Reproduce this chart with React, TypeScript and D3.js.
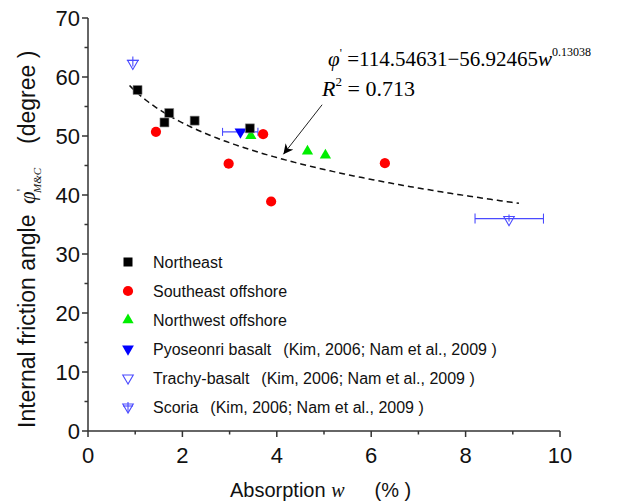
import React from "react";
import * as d3 from "d3";

// ---- data ----
const xTicks = [0, 2, 4, 6, 8, 10];
const xMinor = [1, 3, 5, 7, 9];
const yTicks = [0, 10, 20, 30, 40, 50, 60, 70];
const yMinor = [5, 15, 25, 35, 45, 55, 65];

const northeastW = [1.05, 1.72, 1.62, 2.26, 3.43];
const northeastPhi = [57.8, 53.9, 52.3, 52.6, 51.3];

const southeastW = [1.44, 3.71, 2.98, 3.88, 6.29];
const southeastPhi = [50.7, 50.3, 45.3, 38.9, 45.4];

const northwestW = [3.45, 4.65, 5.03];
const northwestPhi = [50.2, 47.6, 46.9];

const pyoseonriW = [3.23];
const pyoseonriPhi = [50.7];
const pyoseonriErrLo = [2.85];
const pyoseonriErrHi = [3.6];

const trachyW = [8.92];
const trachyPhi = [36.0];
const trachyErrLo = [8.2];
const trachyErrHi = [9.65];

const scoriaW = [0.95];
const scoriaPhi = [62.3];

// fitted curve: phi = A - B * w^p
const fitA = 114.54631;
const fitB = 56.92465;
const fitP = 0.13038;
const fitStart = 0.88;
const fitEnd = 9.15;

const legendLabels = [
  "Northeast",
  "Southeast offshore",
  "Northwest offshore",
  "Pyoseonri basalt",
  "Trachy-basalt",
  "Scoria",
];
const legendRefs = ["", "", "", "(Kim, 2006; Nam et al., 2009 )", "(Kim, 2006; Nam et al., 2009 )", "(Kim, 2006; Nam et al., 2009 )"];

const BLUE = "#0000ff";
const LBLUE = "#4a4aff";
const RED = "#ff0000";
const GREEN = "#00ee00";
const SANS = "Arial, 'Liberation Sans', sans-serif";
const SERIF = "'Times New Roman', 'Liberation Serif', serif";

export default function App() {
  const x = d3.scaleLinear().domain([0, 10]).range([88, 560]);
  const y = d3.scaleLinear().domain([0, 70]).range([431, 18]);

  const sq = d3.symbol().type(d3.symbolSquare).size(81)() as string;
  const circ = d3.symbol().type(d3.symbolCircle).size(82)() as string;
  const tri = d3.symbol().type(d3.symbolTriangle).size(55)() as string;
  const triD = d3.symbol().type(d3.symbolTriangle).size(60)() as string;
  const triO = d3.symbol().type(d3.symbolTriangle).size(48)() as string;

  const fitPts: [number, number][] = d3
    .range(fitStart, fitEnd + 1e-9, 0.05)
    .map((w) => [w, fitA - fitB * Math.pow(w, fitP)]);
  const line = d3
    .line<[number, number]>()
    .x((d) => x(d[0]))
    .y((d) => y(d[1]));

  const scoriaSym = (key: string, cx: number, cy: number) => (
    <g key={key} transform={`translate(${cx},${cy})`} stroke={LBLUE} fill="none" strokeWidth={1.1}>
      <path d={triO} transform="rotate(180)" />
      <line x1={-6} x2={6} y1={-3} y2={-3} />
      <line x1={0} x2={0} y1={-7} y2={3} />
    </g>
  );

  const legendSym = (i: number) => {
    switch (i) {
      case 0:
        return <path d={sq} fill="#000" />;
      case 1:
        return <path d={circ} fill={RED} />;
      case 2:
        return <path d={tri} fill={GREEN} />;
      case 3:
        return <path d={triD} fill={BLUE} transform="rotate(180)" />;
      case 4:
        return <path d={triO} fill="none" stroke={LBLUE} strokeWidth={1.1} transform="rotate(180)" />;
      default:
        return (
          <g stroke={LBLUE} fill="none" strokeWidth={1.1}>
            <path d={triO} transform="rotate(180)" />
            <line x1={-5} x2={5} y1={-1} y2={-1} />
            <line x1={0} x2={0} y1={-5} y2={5} />
          </g>
        );
    }
  };

  const arrowFrom = [4.96, 55.3];
  const arrowTo = [4.14, 46.9];

  return (
    <svg
      width={620}
      height={504}
      style={{ position: "absolute", left: 0, top: 0, background: "#fff" }}
      xmlns="http://www.w3.org/2000/svg"
    >
      <defs>
        <marker
          id="ah"
          markerUnits="userSpaceOnUse"
          markerWidth={12}
          markerHeight={12}
          refX={10}
          refY={5}
          orient="auto"
        >
          <path d="M0,0 L10,5 L0,10 L3,5 Z" fill="#000" />
        </marker>
      </defs>
      <rect width={620} height={504} fill="#fff" />

      {/* axes */}
      <g stroke="#333" strokeWidth={1.5}>
        <line x1={x(0)} x2={x(0)} y1={y(70)} y2={y(0)} />
        <line x1={x(0)} x2={x(10)} y1={y(0)} y2={y(0)} />
        {yTicks.map((t) => (
          <line key={"yt" + t} x1={x(0) - 6} x2={x(0)} y1={y(t)} y2={y(t)} />
        ))}
        {yMinor.map((t) => (
          <line key={"ym" + t} x1={x(0) - 3.5} x2={x(0)} y1={y(t)} y2={y(t)} />
        ))}
        {xTicks.map((t) => (
          <line key={"xt" + t} x1={x(t)} x2={x(t)} y1={y(0)} y2={y(0) + 6} />
        ))}
        {xMinor.map((t) => (
          <line key={"xm" + t} x1={x(t)} x2={x(t)} y1={y(0)} y2={y(0) + 3.5} />
        ))}
      </g>
      <g fontFamily={SANS} fontSize={22} fill="#111">
        {yTicks.map((t) => (
          <text key={"yl" + t} x={x(0) - 8} y={y(t)} dy="0.36em" textAnchor="end">
            {t}
          </text>
        ))}
        {xTicks.map((t) => (
          <text key={"xl" + t} x={x(t)} y={463} textAnchor="middle">
            {t}
          </text>
        ))}
      </g>

      {/* axis titles */}
      <text x={230} y={497} fontFamily={SANS} fontSize={20} fill="#111" xmlSpace="preserve">
        <tspan>Absorption </tspan>
        <tspan fontFamily={SERIF} fontStyle="italic">w</tspan>
        <tspan dx={30}>(% )</tspan>
      </text>
      <text
        transform="translate(35,428) rotate(-90)"
        fontFamily={SANS}
        fontSize={23}
        fill="#111"
        xmlSpace="preserve"
      >
        <tspan>Internal friction angle </tspan>
        <tspan fontFamily={SERIF} fontStyle="italic" dx={4}>φ</tspan>
        <tspan fontFamily={SERIF} fontSize={13} dy={-10}>'</tspan>
        <tspan fontFamily={SERIF} fontStyle="italic" fontSize={11} dx={-4} dy={16}>M&amp;C</tspan>
        <tspan dx={24} dy={-6}>(degree )</tspan>
      </text>

      {/* fitted curve */}
      <path d={line(fitPts) as string} fill="none" stroke="#111" strokeWidth={1.5} strokeDasharray="6,4" />

      {/* annotation */}
      <text x={x(4.96) + 6} y={y(61.9)} fontFamily={SERIF} fontSize={21} fill="#000">
        <tspan fontStyle="italic">φ</tspan>
        <tspan fontSize={12} dy={-9}>'</tspan>
        <tspan dy={9}> =114.54631−56.92465</tspan>
        <tspan fontStyle="italic">w</tspan>
        <tspan fontSize={12} dy={-10}>0.13038</tspan>
      </text>
      <text x={x(4.96)} y={y(56.8)} fontFamily={SERIF} fontSize={22} fill="#000">
        <tspan fontStyle="italic">R</tspan>
        <tspan fontSize={13} dy={-10}>2</tspan>
        <tspan dy={10}> = 0.713</tspan>
      </text>
      <line
        x1={x(arrowFrom[0])}
        y1={y(arrowFrom[1])}
        x2={x(arrowTo[0])}
        y2={y(arrowTo[1])}
        stroke="#222"
        strokeWidth={1}
        markerEnd="url(#ah)"
      />

      {/* error bars */}
      <g stroke={LBLUE} strokeWidth={1.1}>
        {pyoseonriW.map((_, i) => (
          <g key={"pe" + i}>
            <line x1={x(pyoseonriErrLo[i])} x2={x(pyoseonriErrHi[i])} y1={y(pyoseonriPhi[i])} y2={y(pyoseonriPhi[i])} />
            <line x1={x(pyoseonriErrLo[i])} x2={x(pyoseonriErrLo[i])} y1={y(pyoseonriPhi[i]) - 4} y2={y(pyoseonriPhi[i]) + 4} />
            <line x1={x(pyoseonriErrHi[i])} x2={x(pyoseonriErrHi[i])} y1={y(pyoseonriPhi[i]) - 4} y2={y(pyoseonriPhi[i]) + 4} />
          </g>
        ))}
        {trachyW.map((_, i) => (
          <g key={"te" + i}>
            <line x1={x(trachyErrLo[i])} x2={x(trachyErrHi[i])} y1={y(trachyPhi[i])} y2={y(trachyPhi[i])} />
            <line x1={x(trachyErrLo[i])} x2={x(trachyErrLo[i])} y1={y(trachyPhi[i]) - 5} y2={y(trachyPhi[i]) + 5} />
            <line x1={x(trachyErrHi[i])} x2={x(trachyErrHi[i])} y1={y(trachyPhi[i]) - 5} y2={y(trachyPhi[i]) + 5} />
            <line x1={x(trachyW[i])} x2={x(trachyW[i])} y1={y(trachyPhi[i]) - 4} y2={y(trachyPhi[i]) + 3} />
          </g>
        ))}
      </g>

      {/* points */}
      {southeastW.map((w, i) => (
        <path key={"se" + i} d={circ} fill={RED} transform={`translate(${x(w)},${y(southeastPhi[i])})`} />
      ))}
      {northwestW.map((w, i) => (
        <path key={"nw" + i} d={tri} fill={GREEN} transform={`translate(${x(w)},${y(northwestPhi[i]) + 1})`} />
      ))}
      {pyoseonriW.map((w, i) => (
        <path key={"py" + i} d={triD} fill={BLUE} transform={`translate(${x(w)},${y(pyoseonriPhi[i])}) rotate(180)`} />
      ))}
      {northeastW.map((w, i) => (
        <path
          key={"ne" + i}
          d={sq}
          fill="#000"
          stroke="#888"
          strokeWidth={0.6}
          transform={`translate(${x(w)},${y(northeastPhi[i])})`}
        />
      ))}
      {trachyW.map((w, i) => (
        <path
          key={"tr" + i}
          d={triO}
          fill="none"
          stroke={LBLUE}
          strokeWidth={1.1}
          transform={`translate(${x(w)},${y(trachyPhi[i]) + 1}) rotate(180)`}
        />
      ))}
      {scoriaW.map((w, i) => scoriaSym("sc" + i, x(w), y(scoriaPhi[i])))}

      {/* legend */}
      {legendLabels.map((lab, i) => {
        const cy = 262 + i * 29;
        return (
          <g key={"lg" + i}>
            <g transform={`translate(128,${cy})`}>{legendSym(i)}</g>
            <text x={153} y={cy + 6} fontFamily={SANS} fontSize={16} fill="#111">
              <tspan>{lab}</tspan>
              {legendRefs[i] ? <tspan dx={12}>{legendRefs[i]}</tspan> : null}
            </text>
          </g>
        );
      })}
    </svg>
  );
}
